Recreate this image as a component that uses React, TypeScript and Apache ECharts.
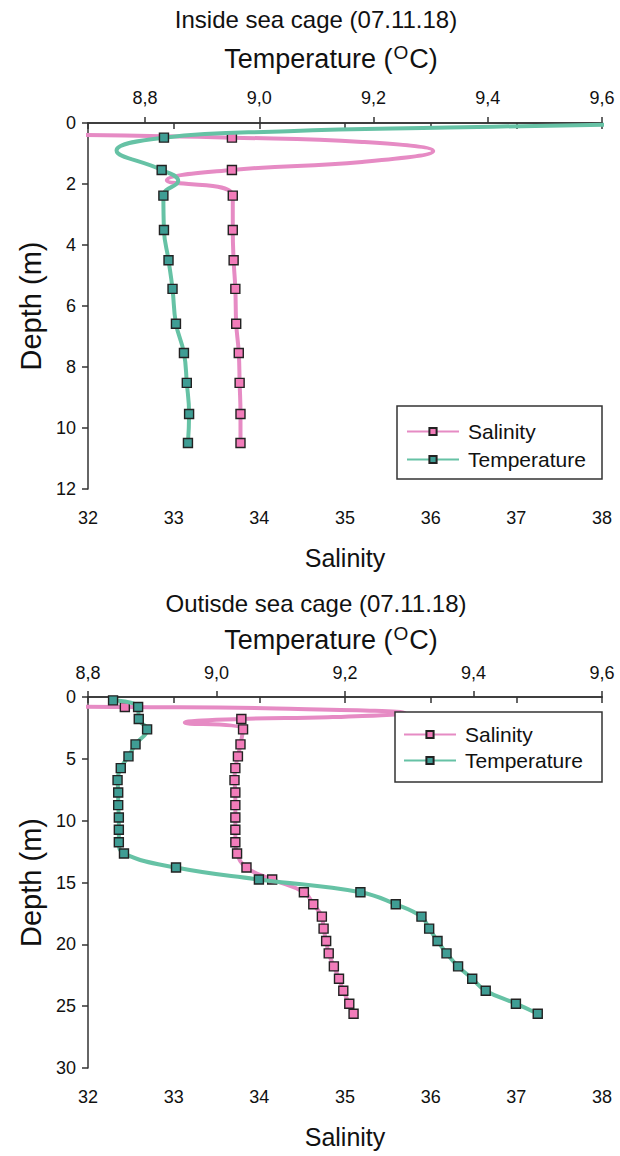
import React, { useEffect, useRef } from "react";
import * as echarts from "echarts";

const FONT = "'Liberation Sans', Arial, sans-serif";
const PINK = "#e68bc4";
const PINK_FILL = "#f27cba";
const TEAL = "#66c2a5";
const TEAL_FILL = "#3f9d94";
const INK = "#111";
const AXIS = "#333";

// ---------- Inside sea cage (07.11.18) ----------
const insideDepth = [0.48, 1.54, 2.38, 3.51, 4.5, 5.44, 6.58, 7.54, 8.52, 9.54, 10.49];
const insideSalinity = [33.68, 33.68, 33.69, 33.69, 33.7, 33.72, 33.73, 33.76, 33.77, 33.78, 33.78];
const insideTemperature = [8.833, 8.829, 8.832, 8.833, 8.841, 8.848, 8.854, 8.868, 8.873, 8.877, 8.875];
// unmarked bends of the drawn smoothing curve: [after measured index, value, depth]
const insideSalinityBends = [
  [-1, 31.8, 0.39],
  [0, 35.2, 0.62],
  [0, 36.03, 0.92],
  [0, 35.2, 1.28],
  [1, 32.92, 1.88],
];
const insideTemperatureBends = [
  [-1, 9.7, 0.02],
  [-1, 9.33, 0.15],
  [-1, 9.05, 0.27],
  [0, 8.75, 0.9],
  [1, 8.858, 1.9],
];

// ---------- Outside sea cage (07.11.18) ----------
const outsideSalinityDepth = [0.81, 1.78, 2.62, 3.83, 4.8, 5.75, 6.72, 7.72, 8.74, 9.74, 10.74, 11.74, 12.66, 13.79, 14.76, 15.79, 16.76, 17.76, 18.73, 19.73, 20.73, 21.78, 22.78, 23.75, 24.8, 25.61];
const outsideSalinity = [32.43, 33.79, 33.81, 33.78, 33.75, 33.72, 33.71, 33.72, 33.72, 33.72, 33.72, 33.72, 33.74, 33.85, 34.15, 34.52, 34.63, 34.73, 34.75, 34.78, 34.81, 34.87, 34.93, 34.98, 35.05, 35.1];
const outsideTemperatureDepth = [0.27, 0.81, 1.78, 2.62, 3.83, 4.8, 5.75, 6.72, 7.72, 8.74, 9.74, 10.74, 11.74, 12.66, 13.79, 14.76, 15.79, 16.76, 17.76, 18.73, 19.73, 20.73, 21.78, 22.78, 23.75, 24.8, 25.61];
const outsideTemperature = [8.839, 8.878, 8.879, 8.892, 8.874, 8.863, 8.851, 8.846, 8.847, 8.847, 8.848, 8.848, 8.848, 8.856, 8.937, 9.066, 9.224, 9.279, 9.319, 9.331, 9.344, 9.358, 9.376, 9.398, 9.419, 9.466, 9.5];
const outsideSalinityBends = [
  [-1, 31.8, 0.79],
  [0, 34.2, 0.93],
  [0, 35.7, 1.3],
  [0, 34.8, 1.64],
  [1, 33.13, 2.08],
];
const outsideTemperatureBends: number[][] = [];

// ---------- axes ----------
const salinityTicks = { min: 32, max: 38, interval: 1 };
const insideTempTicks = [8.8, 9.0, 9.2, 9.4, 9.6];
const insideDepthTicks = { min: 0, max: 12, interval: 2 };
const outsideDepthTicks = { min: 0, max: 30, interval: 5 };
const outsideTempTicks = { min: 8.8, max: 9.6, interval: 0.2 };
const seriesNames = ["Salinity", "Temperature"];

function buildLine(vals: number[], depths: number[], bends: number[][]) {
  const out: any[] = [];
  const add = (i: number) =>
    bends.filter((b) => b[0] === i).forEach((b) => out.push({ value: [b[1], b[2]], symbol: "none" }));
  add(-1);
  vals.forEach((v, i) => {
    out.push({ value: [v, depths[i]] });
    add(i);
  });
  return out;
}

const tempName = "{a|Temperature (}{s|O}{a|C)}";
const tempRich = {
  a: { fontSize: 27, fontFamily: FONT, color: INK, lineHeight: 29, verticalAlign: "bottom" },
  s: { fontSize: 19, fontFamily: FONT, color: INK, lineHeight: 29, verticalAlign: "top", padding: [0, 1, 0, 1] },
};

const axisLine = { show: true, lineStyle: { color: AXIS, width: 1.5 } };
const axisTick = { show: true, inside: false, length: 6, lineStyle: { color: AXIS, width: 1.5 } };
const lbl = (size: number, margin: number, fmt?: (v: number) => string) => ({
  fontSize: size,
  fontFamily: FONT,
  color: INK,
  margin,
  formatter: fmt,
});
const comma = (v: number) => v.toFixed(1).replace(".", ",");
const nameStyle = (size: number) => ({ fontSize: size, fontFamily: FONT, color: INK });

function series(name: string, xi: number, yi: number, data: any[], line: string, fill: string, z: number) {
  return {
    type: "line",
    name,
    xAxisIndex: xi,
    yAxisIndex: yi,
    data,
    smooth: 0.45,
    symbol: "rect",
    symbolSize: 9,
    showAllSymbol: true,
    clip: true,
    z,
    lineStyle: { color: line, width: 4 },
    itemStyle: { color: fill, borderColor: "#222", borderWidth: 1.4 },
    emphasis: { disabled: true },
  };
}

export default function App() {
  const ref = useRef<HTMLDivElement>(null);
  useEffect(() => {
    if (!ref.current) return;
    const chart = echarts.init(ref.current, undefined, { renderer: "svg" });
    const option: any = {
      animation: false,
      backgroundColor: "#fff",
      textStyle: { fontFamily: FONT },
      title: [
        {
          text: "Inside sea cage (07.11.18)",
          left: 311,
          textAlign: "center",
          top: 2,
          textStyle: { fontSize: 24, fontWeight: "normal", fontFamily: FONT, color: INK },
        },
        {
          text: "Outisde sea cage (07.11.18)",
          left: 311,
          textAlign: "center",
          top: 586,
          textStyle: { fontSize: 24, fontWeight: "normal", fontFamily: FONT, color: INK },
        },
      ],
      grid: [
        { left: 88, top: 123, width: 514, height: 366, containLabel: false },
        { left: 88, top: 697, width: 514, height: 371, containLabel: false },
      ],
      xAxis: [
        {
          type: "value",
          gridIndex: 0,
          position: "bottom",
          ...salinityTicks,
          name: "Salinity",
          nameLocation: "middle",
          nameGap: 56,
          nameTextStyle: nameStyle(25),
          axisLine,
          axisTick,
          splitLine: { show: false },
          axisLabel: lbl(18, 20),
        },
        {
          type: "value",
          gridIndex: 0,
          position: "top",
          min: 8.7,
          max: 9.6,
          name: tempName,
          nameLocation: "middle",
          nameGap: 51,
          nameTextStyle: { rich: tempRich, padding: [0, 28, 0, 0] },
          axisLine,
          axisTick: { ...axisTick, customValues: insideTempTicks },
          splitLine: { show: false },
          axisLabel: { ...lbl(18, 16, comma), customValues: insideTempTicks },
        },
        {
          type: "value",
          gridIndex: 1,
          position: "bottom",
          ...salinityTicks,
          name: "Salinity",
          nameLocation: "middle",
          nameGap: 56,
          nameTextStyle: nameStyle(25),
          axisLine,
          axisTick,
          splitLine: { show: false },
          axisLabel: lbl(18, 20),
        },
        {
          type: "value",
          gridIndex: 1,
          position: "top",
          ...outsideTempTicks,
          name: tempName,
          nameLocation: "middle",
          nameGap: 44,
          nameTextStyle: { rich: tempRich, padding: [0, 28, 0, 0] },
          axisLine,
          axisTick,
          splitLine: { show: false },
          axisLabel: lbl(18, 15, comma),
        },
      ],
      yAxis: [
        {
          type: "value",
          gridIndex: 0,
          inverse: true,
          ...insideDepthTicks,
          name: "Depth (m)",
          nameLocation: "middle",
          nameGap: 43,
          nameRotate: 90,
          nameTextStyle: nameStyle(29),
          axisLine,
          axisTick,
          splitLine: { show: false },
          axisLabel: lbl(18, 12),
        },
        {
          type: "value",
          gridIndex: 1,
          inverse: true,
          ...outsideDepthTicks,
          name: "Depth (m)",
          nameLocation: "middle",
          nameGap: 43,
          nameRotate: 90,
          nameTextStyle: nameStyle(29),
          axisLine,
          axisTick,
          splitLine: { show: false },
          axisLabel: lbl(18, 12),
        },
      ],
      legend: [
        {
          data: seriesNames,
          orient: "vertical",
          left: 406,
          top: 421,
          itemWidth: 52,
          itemHeight: 9,
          itemGap: 7,
          padding: 0,
          selectedMode: false,
          textStyle: { fontSize: 21, fontFamily: FONT, color: INK, padding: [0, 0, 0, 4] },
          z: 20,
        },
        {
          data: seriesNames,
          orient: "vertical",
          left: 403,
          top: 724,
          itemWidth: 52,
          itemHeight: 9,
          itemGap: 5,
          padding: 0,
          selectedMode: false,
          textStyle: { fontSize: 21, fontFamily: FONT, color: INK, padding: [0, 0, 0, 4] },
          z: 20,
        },
      ],
      graphic: [
        {
          type: "rect",
          z: 15,
          shape: { x: 397, y: 406, width: 205, height: 73 },
          style: { fill: "#fff", stroke: AXIS, lineWidth: 1.5 },
        },
        {
          type: "rect",
          z: 15,
          shape: { x: 395, y: 712, width: 207, height: 70 },
          style: { fill: "#fff", stroke: AXIS, lineWidth: 1.5 },
        },
      ],
      series: [
        series("Salinity", 0, 0, buildLine(insideSalinity, insideDepth, insideSalinityBends), PINK, PINK_FILL, 3),
        series("Temperature", 1, 0, buildLine(insideTemperature, insideDepth, insideTemperatureBends), TEAL, TEAL_FILL, 4),
        series("Salinity", 2, 1, buildLine(outsideSalinity, outsideSalinityDepth, outsideSalinityBends), PINK, PINK_FILL, 3),
        series("Temperature", 3, 1, buildLine(outsideTemperature, outsideTemperatureDepth, outsideTemperatureBends), TEAL, TEAL_FILL, 4),
      ],
    };
    chart.setOption(option);
    return () => chart.dispose();
  }, []);
  return (
    <div
      ref={ref}
      style={{ position: "absolute", left: 0, top: 0, width: 620, height: 1156 }}
    />
  );
}
